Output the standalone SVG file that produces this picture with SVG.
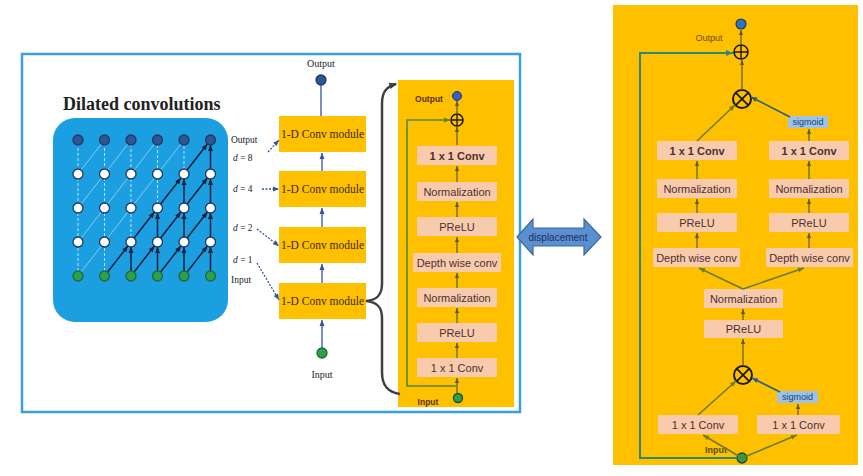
<svg xmlns="http://www.w3.org/2000/svg" width="863" height="476" viewBox="0 0 863 476">
<defs>
<style>
.serif{font-family:"Liberation Serif","DejaVu Serif",serif;fill:#222}
.sans{font-family:"Liberation Sans","DejaVu Sans",sans-serif}
.box{fill:#F8CBAD}
.bt{font-family:"Liberation Sans","DejaVu Sans",sans-serif;font-size:11px;fill:#4d2f2f;text-anchor:middle}
.mod{fill:#FFC000}
.mt{font-family:"Liberation Serif","DejaVu Serif",serif;font-size:11.5px;fill:#3a2a10;text-anchor:middle}
.lt{stroke:#d6eefc;stroke-width:1;stroke-dasharray:3 2;opacity:.85}
.ld{stroke:#cde9fa;stroke-width:1;opacity:.6}
.dk{stroke:#0d1f3c;stroke-width:1.5;marker-end:url(#adk)}
.nav{stroke:#2f5597;stroke-width:1.3;fill:none}
.gr{stroke:#5a5a40;stroke-width:1.2;fill:none;marker-end:url(#agr)}
.ol{stroke:#6b7d2a;stroke-width:1.6;fill:none;marker-end:url(#aol)}
.sg{fill:#9dc3e6}
.sgt{font-family:"Liberation Sans","DejaVu Sans",sans-serif;font-size:9px;fill:#1f3d7a;text-anchor:middle}
</style>
<marker id="adk" viewBox="0 0 6 6" markerWidth="6" markerHeight="6" refX="11" refY="3" orient="auto" markerUnits="userSpaceOnUse" overflow="visible"><path d="M0,0.5 L6,3 L0,5.5z" fill="#0d1f3c"/></marker>
<marker id="anav" viewBox="0 0 6 6" markerWidth="6" markerHeight="6" refX="6" refY="3" orient="auto" markerUnits="userSpaceOnUse" overflow="visible"><path d="M0,0.5 L6,3 L0,5.5z" fill="#2f5597"/></marker>
<marker id="agr" viewBox="0 0 6 6" markerWidth="5" markerHeight="5" refX="6" refY="3" orient="auto" markerUnits="userSpaceOnUse" overflow="visible"><path d="M0,0.5 L6,3 L0,5.5z" fill="#5a5a40"/></marker>
<marker id="aol" viewBox="0 0 6 6" markerWidth="6" markerHeight="6" refX="6" refY="3" orient="auto" markerUnits="userSpaceOnUse" overflow="visible"><path d="M0,0.5 L6,3 L0,5.5z" fill="#6b7d2a"/></marker>
<marker id="ate" viewBox="0 0 6 6" markerWidth="7" markerHeight="7" refX="6" refY="3" orient="auto" markerUnits="userSpaceOnUse" overflow="visible"><path d="M0,0.5 L6,3 L0,5.5z" fill="#2a8a7a"/></marker>
<marker id="agn" viewBox="0 0 6 6" markerWidth="6" markerHeight="6" refX="6" refY="3" orient="auto" markerUnits="userSpaceOnUse" overflow="visible"><path d="M0,0.5 L6,3 L0,5.5z" fill="#4f8a2a"/></marker>
<marker id="abr" viewBox="0 0 6 6" markerWidth="8" markerHeight="8" refX="5" refY="3" orient="auto" markerUnits="userSpaceOnUse" overflow="visible"><path d="M0,0.5 L6,3 L0,5.5z" fill="#404040"/></marker>
<marker id="asg" viewBox="0 0 6 6" markerWidth="6" markerHeight="6" refX="6" refY="3" orient="auto" markerUnits="userSpaceOnUse" overflow="visible"><path d="M0,0.5 L6,3 L0,5.5z" fill="#2f5f7f"/></marker>
</defs>

<rect width="863" height="476" fill="#ffffff"/>

<!-- outer framed area -->
<g id="frame">
<rect x="22" y="54" width="498" height="358" fill="#ffffff" stroke="#3aa0dc" stroke-width="2.5"/>
</g>

<!-- dilated convolutions panel -->
<g id="dilated">
<text x="63" y="110" class="serif" font-size="18" font-weight="bold">Dilated convolutions</text>
<rect x="53" y="118" width="175" height="204" rx="22" fill="#1b9fe0"/>
<g id="grid-light">
<line class="lt" x1="78" y1="276" x2="78" y2="140"/>
<line class="lt" x1="104.5" y1="276" x2="104.5" y2="140"/>
<line class="lt" x1="131" y1="242" x2="131" y2="140"/>
<line class="lt" x1="157.5" y1="208" x2="157.5" y2="140"/>
<line class="lt" x1="184" y1="174" x2="184" y2="140"/>
<line class="ld" x1="78" y1="276" x2="104.5" y2="242"/>
<line class="ld" x1="78" y1="242" x2="104.5" y2="208"/>
<line class="ld" x1="104.5" y1="242" x2="131" y2="208"/>
<line class="ld" x1="78" y1="208" x2="104.5" y2="174"/>
<line class="ld" x1="104.5" y1="208" x2="131" y2="174"/>
<line class="ld" x1="131" y1="208" x2="157.5" y2="174"/>
<line class="ld" x1="78" y1="174" x2="104.5" y2="140"/>
<line class="ld" x1="104.5" y1="174" x2="131" y2="140"/>
<line class="ld" x1="131" y1="174" x2="157.5" y2="140"/>
<line class="ld" x1="157.5" y1="174" x2="184" y2="140"/>
</g>
<g id="grid-dark">
<line class="dk" x1="210.5" y1="276" x2="210.5" y2="242"/>
<line class="dk" x1="210.5" y1="242" x2="210.5" y2="208"/>
<line class="dk" x1="210.5" y1="208" x2="210.5" y2="174"/>
<line class="dk" x1="210.5" y1="174" x2="210.5" y2="140"/>
<line class="dk" x1="184" y1="276" x2="184" y2="242"/>
<line class="dk" x1="184" y1="242" x2="184" y2="208"/>
<line class="dk" x1="184" y1="208" x2="184" y2="174"/>
<line class="dk" x1="157.5" y1="276" x2="157.5" y2="242"/>
<line class="dk" x1="157.5" y1="242" x2="157.5" y2="208"/>
<line class="dk" x1="131" y1="276" x2="131" y2="242"/>
<line class="dk" x1="104.5" y1="276" x2="131" y2="242"/>
<line class="dk" x1="131" y1="276" x2="157.5" y2="242"/>
<line class="dk" x1="157.5" y1="276" x2="184" y2="242"/>
<line class="dk" x1="184" y1="276" x2="210.5" y2="242"/>
<line class="dk" x1="131" y1="242" x2="157.5" y2="208"/>
<line class="dk" x1="157.5" y1="242" x2="184" y2="208"/>
<line class="dk" x1="184" y1="242" x2="210.5" y2="208"/>
<line class="dk" x1="157.5" y1="208" x2="184" y2="174"/>
<line class="dk" x1="184" y1="208" x2="210.5" y2="174"/>
<line class="dk" x1="184" y1="174" x2="210.5" y2="140"/>
</g>
<g id="grid-nodes" stroke-width="1.3">
<g fill="#2f5597" stroke="#1f3864">
<circle cx="78" cy="140" r="5"/><circle cx="104.5" cy="140" r="5"/><circle cx="131" cy="140" r="5"/><circle cx="157.5" cy="140" r="5"/><circle cx="184" cy="140" r="5"/><circle cx="210.5" cy="140" r="5"/>
</g>
<g fill="#ffffff" stroke="#1f3864">
<circle cx="78" cy="174" r="5"/><circle cx="104.5" cy="174" r="5"/><circle cx="131" cy="174" r="5"/><circle cx="157.5" cy="174" r="5"/><circle cx="184" cy="174" r="5"/><circle cx="210.5" cy="174" r="5"/>
<circle cx="78" cy="208" r="5"/><circle cx="104.5" cy="208" r="5"/><circle cx="131" cy="208" r="5"/><circle cx="157.5" cy="208" r="5"/><circle cx="184" cy="208" r="5"/><circle cx="210.5" cy="208" r="5"/>
<circle cx="78" cy="242" r="5"/><circle cx="104.5" cy="242" r="5"/><circle cx="131" cy="242" r="5"/><circle cx="157.5" cy="242" r="5"/><circle cx="184" cy="242" r="5"/><circle cx="210.5" cy="242" r="5"/>
</g>
<g fill="#2e9e4f" stroke="#1e6b35">
<circle cx="78" cy="276" r="5"/><circle cx="104.5" cy="276" r="5"/><circle cx="131" cy="276" r="5"/><circle cx="157.5" cy="276" r="5"/><circle cx="184" cy="276" r="5"/><circle cx="210.5" cy="276" r="5"/>
</g>
</g>
<g class="serif" font-size="9.5">
<text x="231" y="143">Output</text>
<text x="233" y="161"><tspan font-style="italic">d</tspan> = 8</text>
<text x="233" y="192"><tspan font-style="italic">d</tspan> = 4</text>
<text x="233" y="231"><tspan font-style="italic">d</tspan> = 2</text>
<text x="233" y="263"><tspan font-style="italic">d</tspan> = 1</text>
<text x="231" y="283">Input</text>
</g>
</g>

<!-- 1-D conv module stack -->
<g id="module-out">
<text x="321" y="67" class="serif" font-size="10" text-anchor="middle">Output</text>
<circle cx="321" cy="80" r="5" fill="#2f5597" stroke="#1f3864" stroke-width="1.3"/>
</g>
<g id="module-1"><rect class="mod" x="279" y="116" width="87" height="36"/><text class="mt" x="322.5" y="138">1-D Conv module</text></g>
<g id="module-2"><rect class="mod" x="279" y="171" width="87" height="36"/><text class="mt" x="322.5" y="193">1-D Conv module</text></g>
<g id="module-3"><rect class="mod" x="279" y="227" width="87" height="36"/><text class="mt" x="322.5" y="249">1-D Conv module</text></g>
<g id="module-4"><rect class="mod" x="279" y="283" width="87" height="36"/><text class="mt" x="322.5" y="305">1-D Conv module</text></g>
<g id="module-in">
<circle cx="322" cy="353" r="5" fill="#2e9e4f" stroke="#1e6b35" stroke-width="1.3"/>
<text x="322" y="378" class="serif" font-size="10" text-anchor="middle">Input</text>
</g>

<!-- middle module detail panel -->
<g id="block-panel">
<rect x="398" y="80" width="116" height="327" fill="#FFC000"/>
<text x="429" y="102" class="sans" font-size="8.5" font-weight="bold" fill="#5a3000" text-anchor="middle">Output</text>
<circle cx="457" cy="96" r="4.5" fill="#3b5fc4" stroke="#1f3864" stroke-width="1"/>
<text x="428" y="405" class="sans" font-size="8.5" font-weight="bold" fill="#5a3000" text-anchor="middle">Input</text>
<circle cx="458" cy="398" r="4.5" fill="#2e9e4f" stroke="#1e4b25" stroke-width="1.3"/>
</g>
<g id="b-add"><circle cx="457" cy="120" r="6" fill="none" stroke="#1a1a1a" stroke-width="1.5"/><path d="M451,120 H463 M457,114 V126" stroke="#1a1a1a" stroke-width="1.3"/></g>
<g id="b-conv2"><rect class="box" x="417" y="146" width="80" height="19"/><text class="bt" x="457" y="159.5" font-weight="bold">1 x 1 Conv</text></g>
<g id="b-norm2"><rect class="box" x="417" y="182" width="80" height="19"/><text class="bt" x="457" y="195.5">Normalization</text></g>
<g id="b-prelu2"><rect class="box" x="417" y="217" width="80" height="19"/><text class="bt" x="457" y="230.5">PReLU</text></g>
<g id="b-dconv"><rect class="box" x="413" y="253" width="88" height="19"/><text class="bt" x="457" y="266.5">Depth wise conv</text></g>
<g id="b-norm1"><rect class="box" x="417" y="288" width="80" height="19"/><text class="bt" x="457" y="301.5">Normalization</text></g>
<g id="b-prelu1"><rect class="box" x="417" y="323" width="80" height="19"/><text class="bt" x="457" y="336.5">PReLU</text></g>
<g id="b-conv1"><rect class="box" x="417" y="358" width="80" height="19"/><text class="bt" x="457" y="371.5">1 x 1 Conv</text></g>

<!-- displacement arrow -->
<g id="displacement">
<path d="M517,237 L533,219 L533,228 L584,228 L584,219 L601,237 L584,255 L584,246 L533,246 L533,255 Z" fill="#5b8fd0" stroke="#3a6aa0" stroke-width="1.2"/>
<text x="558" y="240.5" class="sans" font-size="10" fill="#1f2d5a" text-anchor="middle">displacement</text>
</g>

<!-- right detail panel -->
<g id="detail-panel">
<rect x="613" y="5" width="245" height="460" fill="#FFC000"/>
<text x="709" y="41" class="sans" font-size="9" fill="#6b4a00" text-anchor="middle">Output</text>
<circle cx="741" cy="24" r="5" fill="#2f75b5" stroke="#1f3864" stroke-width="1.2"/>
<text x="716" y="453" class="sans" font-size="9" font-weight="bold" fill="#5a4a00" text-anchor="middle">Input</text>
<circle cx="742" cy="458" r="5" fill="#2e9e4f" stroke="#1e4b25" stroke-width="1.3"/>
</g>
<g id="d-add"><circle cx="741" cy="52" r="7" fill="none" stroke="#1a1a1a" stroke-width="1.6"/><path d="M734,52 H748 M741,45 V59" stroke="#1a1a1a" stroke-width="1.4"/></g>
<g id="d-mul1"><circle cx="742" cy="99" r="9" fill="none" stroke="#1a1a1a" stroke-width="2"/><path d="M735.6,92.6 L748.4,105.4 M748.4,92.6 L735.6,105.4" stroke="#1a1a1a" stroke-width="1.8"/></g>
<g id="d-sig2"><rect class="sg" x="788" y="116" width="40" height="12"/><text class="sgt" x="808" y="125">sigmoid</text></g>
<g id="d-convL2"><rect class="box" x="657" y="141" width="80" height="19"/><text class="bt" x="697" y="154.5" font-weight="bold">1 x 1 Conv</text></g>
<g id="d-convR2"><rect class="box" x="769" y="141" width="80" height="19"/><text class="bt" x="809" y="154.5" font-weight="bold">1 x 1 Conv</text></g>
<g id="d-normL"><rect class="box" x="657" y="179" width="80" height="19"/><text class="bt" x="697" y="192.5">Normalization</text></g>
<g id="d-normR"><rect class="box" x="769" y="179" width="80" height="19"/><text class="bt" x="809" y="192.5">Normalization</text></g>
<g id="d-preluL"><rect class="box" x="657" y="213" width="80" height="19"/><text class="bt" x="697" y="226.5">PReLU</text></g>
<g id="d-preluR"><rect class="box" x="769" y="213" width="80" height="19"/><text class="bt" x="809" y="226.5">PReLU</text></g>
<g id="d-dconvL"><rect class="box" x="653" y="248" width="87" height="19"/><text class="bt" x="696.5" y="261.5">Depth wise conv</text></g>
<g id="d-dconvR"><rect class="box" x="766" y="248" width="87" height="19"/><text class="bt" x="809.5" y="261.5">Depth wise conv</text></g>
<g id="d-norm"><rect class="box" x="704" y="289" width="79" height="19"/><text class="bt" x="743.5" y="302.5">Normalization</text></g>
<g id="d-prelu"><rect class="box" x="704" y="320" width="79" height="18"/><text class="bt" x="743.5" y="333">PReLU</text></g>
<g id="d-mul0"><circle cx="743" cy="375" r="9" fill="none" stroke="#1a1a1a" stroke-width="2"/><path d="M736.6,368.6 L749.4,381.4 M749.4,368.6 L736.6,381.4" stroke="#1a1a1a" stroke-width="1.8"/></g>
<g id="d-sig1"><rect class="sg" x="777" y="391" width="41" height="12"/><text class="sgt" x="797.5" y="400">sigmoid</text></g>
<g id="d-convL1"><rect class="box" x="658" y="415" width="80" height="19"/><text class="bt" x="698" y="428.5">1 x 1 Conv</text></g>
<g id="d-convR1"><rect class="box" x="757" y="415" width="83" height="19"/><text class="bt" x="798.5" y="428.5">1 x 1 Conv</text></g>

<!-- connectors -->
<g id="connectors">
<!-- label pointers -->
<line x1="268" y1="152" x2="279" y2="140" class="nav" stroke-dasharray="2 1.5" marker-end="url(#anav)"/>
<line x1="262" y1="189" x2="279" y2="189" class="nav" stroke-dasharray="2 1.5" marker-end="url(#anav)"/>
<line x1="257" y1="229" x2="279" y2="246" class="nav" stroke-dasharray="2 1.5" marker-end="url(#anav)"/>
<line x1="257" y1="263" x2="279" y2="300" class="nav" stroke-dasharray="2 1.5" marker-end="url(#anav)"/>
<!-- module stack -->
<line x1="321" y1="85" x2="321" y2="116" class="nav"/>
<line x1="322" y1="171" x2="322" y2="153" class="nav" marker-end="url(#anav)"/>
<line x1="322" y1="227" x2="322" y2="208" class="nav" marker-end="url(#anav)"/>
<line x1="322" y1="283" x2="322" y2="264" class="nav" marker-end="url(#anav)"/>
<line x1="322" y1="348" x2="322" y2="320" class="nav" marker-end="url(#anav)"/>
<!-- brace -->
<path d="M400,394 C388,392 382,386 382,372 L382,318 C382,307 377,302 366,301 C377,300 382,295 382,284 L382,104 C382,92 386,87 396,84" fill="none" stroke="#404040" stroke-width="2.5" marker-end="url(#abr)"/>
<!-- block panel -->
<line x1="457" y1="113" x2="457" y2="101" class="gr"/>
<line x1="457" y1="145" x2="457" y2="127" class="gr"/>
<line x1="457" y1="182" x2="457" y2="166" class="gr"/>
<line x1="457" y1="217" x2="457" y2="202" class="gr"/>
<line x1="457" y1="253" x2="457" y2="237" class="gr"/>
<line x1="457" y1="288" x2="457" y2="273" class="gr"/>
<line x1="457" y1="323" x2="457" y2="308" class="gr"/>
<line x1="457" y1="358" x2="457" y2="343" class="gr"/>
<line x1="457" y1="393" x2="457" y2="378" class="gr"/>
<path d="M457,386 H407 V120 H450" fill="none" stroke="#4f8a2a" stroke-width="1.6" marker-end="url(#agn)"/>
<!-- detail panel -->
<path d="M737,458 H640 V53 H733" fill="none" stroke="#2a8a7a" stroke-width="2" marker-end="url(#ate)"/>
<line x1="741" y1="45" x2="741" y2="30" class="gr"/>
<line x1="742" y1="90" x2="742" y2="60" class="gr"/>
<line x1="697" y1="141" x2="735" y2="105" class="ol"/>
<line x1="790" y1="117" x2="751" y2="97" stroke="#2f5f7f" stroke-width="1.6" marker-end="url(#asg)"/>
<line x1="809" y1="141" x2="809" y2="129" class="gr"/>
<line x1="697" y1="179" x2="697" y2="161" class="gr"/>
<line x1="809" y1="179" x2="809" y2="161" class="gr"/>
<line x1="697" y1="213" x2="697" y2="199" class="gr"/>
<line x1="809" y1="213" x2="809" y2="199" class="gr"/>
<line x1="697" y1="248" x2="697" y2="233" class="gr"/>
<line x1="809" y1="248" x2="809" y2="233" class="gr"/>
<line x1="743" y1="289" x2="699" y2="268" class="ol"/>
<line x1="743" y1="289" x2="804" y2="268" class="ol"/>
<line x1="743" y1="320" x2="743" y2="309" class="gr"/>
<line x1="743" y1="366" x2="743" y2="339" class="gr"/>
<line x1="698" y1="415" x2="736" y2="381" class="ol"/>
<line x1="780" y1="392" x2="752" y2="378" stroke="#2f5f7f" stroke-width="1.6" marker-end="url(#asg)"/>
<line x1="798" y1="415" x2="798" y2="404" class="gr"/>
<line x1="742" y1="458" x2="703" y2="435" class="ol"/>
<line x1="742" y1="458" x2="797" y2="435" class="ol"/>
</g>
</svg>
